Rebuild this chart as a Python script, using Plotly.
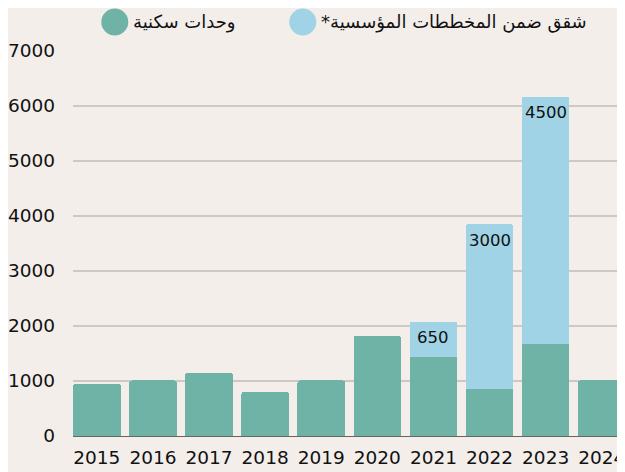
import plotly.graph_objects as go

# Datos
years = ["2015", "2016", "2017", "2018", "2019", "2020", "2021", "2022", "2023", "2024"]
units = [950, 1010, 1150, 800, 1010, 1820, 1430, 850, 1670, 1010]
inst_flats = [None, None, None, None, None, None, 650, 3000, 4500, None]
y_ticks = [0, 1000, 2000, 3000, 4000, 5000, 6000, 7000]

name_units = "وحدات سكنية"
name_flats = "شقق ضمن المخططات المؤسسية*"

GREEN = "#6fb3a6"
BLUE = "#9fd3e5"
BG = "#f3eeea"
FONT = "DejaVu Sans"

fig = go.Figure()
fig.add_trace(go.Bar(x=years, y=units, name=name_units, marker=dict(color=GREEN, line=dict(width=0))))
fig.add_trace(go.Bar(x=years, y=inst_flats, name=name_flats, marker=dict(color=BLUE, line=dict(width=0))))

# etiquetas dentro de la parte azul (x por índice de categoría)
for i, (u, f) in enumerate(zip(units, inst_flats)):
    if f:
        fig.add_annotation(x=i, y=u + f, text=str(f), showarrow=False,
                           yanchor="middle", yshift=-16,
                           font=dict(family=FONT, size=16.5, color="#111111"))

# la página tiene 8px de margen en el body; el gráfico sobresale a la derecha
W, H = 625, 464
ML, MR, MT, MB = 62, 0, 43, 36
pw, ph = W - ML - MR, H - MT - MB


def px_x(px):
    return (px - ML) / pw


def px_y(py):
    return (H - MB - py) / ph


# leyenda dibujada a mano (círculos grandes)
legend_items = [(104, 120, GREEN, name_units), (293, 309, BLUE, name_flats + "\u200f")]
for cx, tx, col, label in legend_items:
    fig.add_shape(type="circle", xref="paper", yref="paper",
                  xsizemode="pixel", ysizemode="pixel",
                  xanchor=px_x(cx), yanchor=px_y(14),
                  x0=-13.5, x1=13.5, y0=-13.5, y1=13.5,
                  fillcolor=col, line=dict(width=0))
    fig.add_annotation(xref="paper", yref="paper", x=px_x(tx), y=px_y(14),
                       xanchor="left", yanchor="middle", text=label, showarrow=False,
                       font=dict(family=FONT, size=18, color="#111111"))

fig.update_layout(
    width=W, height=H,
    margin=dict(l=ML, r=MR, t=MT, b=MB),
    barmode="stack", bargap=0.15, barcornerradius=3,
    paper_bgcolor=BG, plot_bgcolor=BG,
    showlegend=False,
    font=dict(family=FONT, size=18.5, color="#111111"),
    xaxis=dict(type="category", range=[-0.425, 9.557], showgrid=False, showline=True,
               linecolor="#666666", linewidth=1, ticks="", ticklabelstandoff=5,
               tickfont=dict(size=18.5)),
    yaxis=dict(range=[0, 7000], tickvals=y_ticks, showgrid=True, gridcolor="#cdc8c3",
               gridwidth=1.5, zeroline=False, showline=False, ticks="",
               ticklabelstandoff=17, tickfont=dict(size=18.5)),
)

fig.write_html("out.html")
